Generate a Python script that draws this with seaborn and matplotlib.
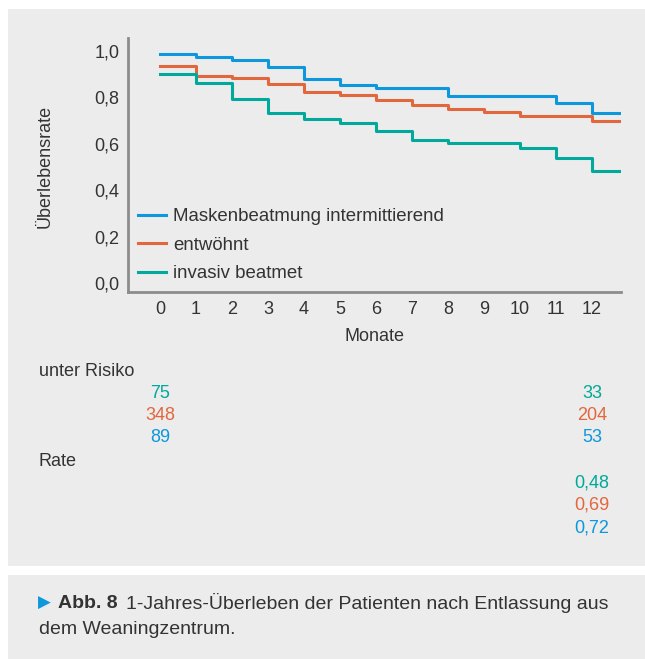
import numpy as np
import pandas as pd
import seaborn as sns
import matplotlib.pyplot as plt
import matplotlib.transforms as mtransforms
from matplotlib.patches import Rectangle

# survival per interval [m, m+1)
months=list(range(13))
x_end=12.8
groups=['Maskenbeatmung intermittierend','entwöhnt','invasiv beatmet']
colors=['#0d97dc','#e2673d','#00a99b']
mask_surv=[0.984,0.973,0.961,0.929,0.880,0.852,0.838,0.838,0.805,0.805,0.805,0.775,0.733]
weaned_surv=[0.933,0.892,0.881,0.855,0.824,0.811,0.788,0.766,0.751,0.735,0.719,0.719,0.698]
invasive_surv=[0.898,0.862,0.791,0.731,0.706,0.689,0.655,0.615,0.604,0.604,0.583,0.537,0.483]
at_risk_start=[89,348,75]
at_risk_end=[53,204,33]
rates=[0.72,0.69,0.48]
yticks=[0.0,0.2,0.4,0.6,0.8,1.0]

bg='#ebeceb'
txt='#333333'
plt.rcParams['font.family']=['Liberation Sans','DejaVu Sans']
plt.rcParams['text.color']=txt
fs=13

rows=[]
for g,s in zip(groups,[mask_surv,weaned_surv,invasive_surv]):
    for m,v in zip(months+[x_end],s+[s[-1]]):
        rows.append([g,m,v])
df=pd.DataFrame(rows,columns=['Gruppe','Monat','Rate'])

W,H=645,659
fig=plt.figure(figsize=(W/100,H/100),dpi=100)
fig.patches.append(Rectangle((8/W,(H-566)/H),1-8/W,557/H,transform=fig.transFigure,
                             facecolor=bg,edgecolor='none',zorder=-10))
fig.patches.append(Rectangle((8/W,0),1-8/W,(H-575)/H,transform=fig.transFigure,
                             facecolor=bg,edgecolor='none',zorder=-10))
ax=fig.add_axes([128.3/W,(H-291.7)/H,(620.7-128.3)/W,(291.7-38)/H])
ax.set_facecolor('none')

sns.lineplot(data=df,x='Monat',y='Rate',hue='Gruppe',hue_order=groups,palette=colors,
             estimator=None,drawstyle='steps-post',linewidth=2.2,ax=ax)
ax.set_xlim(-0.88,x_end)
ax.set_ylim(-0.037,1.055)
ax.set_xticks(months)
ax.set_xticklabels([str(m) for m in months],fontsize=fs,color=txt)
ax.set_yticks(yticks)
ax.set_yticklabels([f'{v:.1f}'.replace('.',',') for v in yticks],fontsize=fs,color=txt)
ax.tick_params(length=0)
ax.tick_params(axis='y',pad=6.5)
ax.tick_params(axis='x',pad=7)
for k in ['top','right']:
    ax.spines[k].set_visible(False)
for k in ['left','bottom']:
    ax.spines[k].set_color('#8c8c8c')
    ax.spines[k].set_linewidth(2)
ax.set_xlabel('')
ax.set_ylabel('')
sns.move_legend(ax,'center left',bbox_to_anchor=(0.0015,0.183),frameon=False,title=None,
                fontsize=13.4,borderpad=0,handlelength=1.5,handletextpad=0.37,labelspacing=0.62)
for t in ax.get_legend().get_texts():
    t.set_color(txt)

fig.text(45/W,(H-166)/H,'Überlebensrate',rotation=90,ha='center',va='center',fontsize=fs)
fig.text(374.5/W,(H-336.7)/H,'Monate',ha='center',va='center',fontsize=fs)

# number at risk / rate table under the plot
tr=mtransforms.blended_transform_factory(ax.transData,fig.transFigure)
fig.text(39/W,(H-371.7)/H,'unter Risiko',ha='left',va='center',fontsize=fs)
fig.text(39/W,(H-461.7)/H,'Rate',ha='left',va='center',fontsize=fs)
risk_y=[438,416,393]
rate_y=[528,505,483]
for i in range(3):
    ax.text(months[0],(H-risk_y[i])/H,str(at_risk_start[i]),transform=tr,ha='center',va='center',
            fontsize=fs,color=colors[i],clip_on=False)
    ax.text(months[-1],(H-risk_y[i])/H,str(at_risk_end[i]),transform=tr,ha='center',va='center',
            fontsize=fs,color=colors[i],clip_on=False)
    ax.text(months[-1],(H-rate_y[i])/H,f'{rates[i]:.2f}'.replace('.',','),transform=tr,ha='center',
            va='center',fontsize=fs,color=colors[i],clip_on=False)

# caption
cfs=14
fig.text(38/W,(H-603)/H,'▶',family=['DejaVu Sans'],fontsize=12,color=colors[0],ha='left',va='center')
fig.text(58/W,(H-603)/H,'Abb. 8',fontsize=cfs,weight='bold',ha='left',va='center')
fig.text(126/W,(H-603)/H,'1-Jahres-Überleben der Patienten nach Entlassung aus',fontsize=cfs,
         ha='left',va='center')
fig.text(39/W,(H-630)/H,'dem Weaningzentrum.',fontsize=cfs,ha='left',va='center')

fig.savefig('out.png',dpi=100,facecolor='white')
